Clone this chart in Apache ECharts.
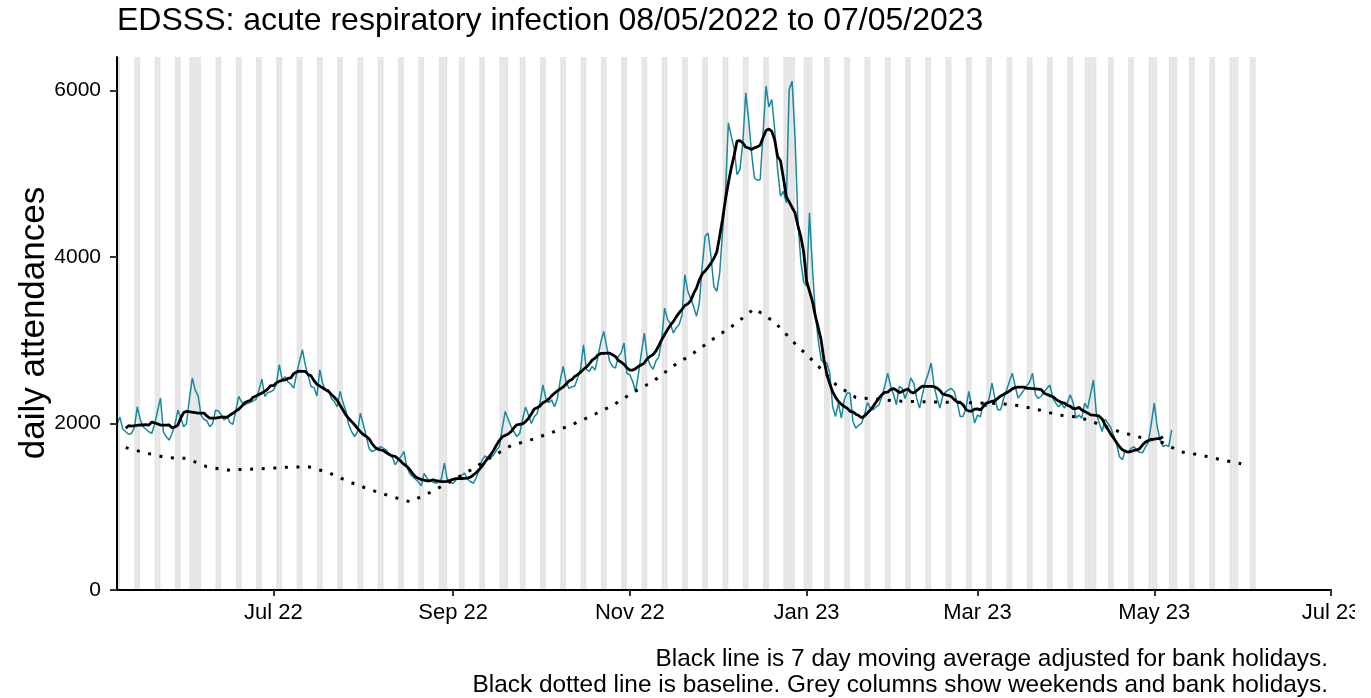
<!DOCTYPE html>
<html>
<head>
<meta charset="utf-8">
<script src="https://cdn.jsdelivr.net/npm/echarts@6/dist/echarts.min.js"></script>
<style>
  html, body { margin: 0; padding: 0; background: #ffffff; }
  #chart { width: 1371px; height: 698px; }
</style>
</head>
<body>
<div id="chart"></div>
<script>
// Daily attendances, one value per day starting Sunday 08/05/2022 (one week per row)
const seriesStart = '2022-05-08';
const dailyAttendances = [
  1990, 2076, 1933, 1900, 1870, 1880, 1950,
  2200, 2050, 1960, 1930, 1900, 1880, 1990,
  2150, 2304, 1900, 1840, 1800, 1880, 1990,
  2160, 2070, 1960, 2000, 2300, 2545, 2400,
  2330, 2100, 2050, 2030, 1960, 2000, 2160,
  2150, 2100, 2040, 2080, 2010, 1990, 2150,
  2324, 2260, 2220, 2240, 2250, 2270, 2290,
  2400, 2533, 2324, 2370, 2380, 2400, 2470,
  2705, 2525, 2560, 2500, 2470, 2424, 2600,
  2750, 2885, 2700, 2565, 2444, 2430, 2330,
  2645, 2480, 2400, 2404, 2300, 2264, 2200,
  2384, 2250, 2150, 1983, 1900, 1843, 1900,
  2124, 1990, 1850, 1700, 1663, 1680, 1700,
  1723, 1700, 1680, 1623, 1600, 1503, 1560,
  1600, 1663, 1483, 1400, 1362, 1330, 1300,
  1250, 1400, 1340, 1310, 1300, 1280, 1300,
  1340, 1523, 1322, 1290, 1280, 1320, 1360,
  1380, 1402, 1330, 1300, 1282, 1350, 1442,
  1560, 1611, 1580, 1590, 1623, 1680, 1723,
  1950, 2144, 2050, 1963, 1900, 1843, 1880,
  2050, 2196, 2100, 2000, 2080, 2120, 2250,
  2464, 2300, 2250, 2280, 2200, 2300, 2524,
  2684, 2500, 2420, 2440, 2450, 2550, 2650,
  2945, 2650, 2624, 2684, 2640, 2800, 2980,
  3105, 2925, 2750, 2684, 2664, 2800, 2850,
  2965, 2600, 2584, 2500, 2384, 2604, 2850,
  3085, 2800, 2700, 2650, 2750, 2800, 3000,
  3386, 3250, 3200, 3085, 3150, 3185, 3300,
  3786, 3586, 3500, 3406, 3286, 3446, 3900,
  4247, 4287, 4007, 3646, 3586, 3800, 4300,
  4768, 5609, 5449, 5300, 4988, 5048, 5369,
  5970, 5649, 5249, 4948, 4920, 4928, 5500,
  6050, 5800, 5890, 5529, 5048, 4728, 4788,
  4648, 6010, 6110, 5449, 4448, 3950, 3700,
  3650, 4528, 3887, 3330, 3006, 2765, 2725,
  2725, 2605, 2200, 2084, 2244, 2064, 2284,
  2364, 2364, 2024, 1943, 1980, 2004, 2100,
  2250, 2184, 2164, 2200, 2224, 2324, 2450,
  2604, 2450, 2350, 2224, 2444, 2420, 2300,
  2400, 2545, 2480, 2300, 2184, 2350, 2500,
  2600, 2725, 2450, 2304, 2184, 2330, 2380,
  2404, 2420, 2380, 2250, 2084, 2084, 2180,
  2384, 2200, 2004, 2100, 2080, 2250, 2200,
  2300, 2484, 2300, 2164, 2164, 2300, 2400,
  2500, 2604, 2450, 2304, 2350, 2400, 2450,
  2500, 2604, 2344, 2300, 2330, 2380, 2424,
  2460, 2300, 2244, 2200, 2240, 2184, 2250,
  2344, 2250, 2064, 2100, 2064, 2244, 2180,
  2350, 2524, 2124, 2004, 1903, 2050, 2000,
  1950, 1850, 1750, 1600, 1563, 1680, 1650,
  1700, 1720, 1680, 1650, 1650, 1720, 1780,
  2004, 2244, 1963, 1800, 1723, 1740, 1723,
  1923
];

// Baseline, one value every 7 days starting 11/05/2022
const baselineStart = '2022-05-11';
const baselineStepDays = 7;
const baselineValues = [
  1710, 1645, 1590, 1580, 1480, 1440, 1450, 1460, 1475, 1480,
  1410, 1300, 1210, 1130, 1060, 1170, 1300, 1440, 1590, 1735,
  1805, 1890, 1985, 2095, 2215, 2370, 2505, 2690, 2845, 3020,
  3185, 3380, 3215, 2960, 2725, 2470, 2310, 2290, 2270, 2262,
  2258, 2252, 2245, 2240, 2215, 2165, 2100, 2075, 1990, 1900,
  1835, 1785, 1660, 1620, 1565, 1515
];

// Bank holidays (England) in the plotted period
const bankHolidays = [
  '2022-06-02', '2022-06-03', '2022-08-29', '2022-09-19',
  '2022-12-26', '2022-12-27', '2023-01-02', '2023-04-07',
  '2023-04-10', '2023-05-01', '2023-05-08', '2023-05-29'
];

// Calendar span shaded for weekends and bank holidays
const shadeFrom = '2022-05-08';
const shadeTo = '2023-06-04';

// Axis extent and tick labels
const xAxisFrom = '2022-05-08';
const xAxisTo = '2023-07-01';
const xTickDates = ['2022-07-01', '2022-09-01', '2022-11-01', '2023-01-01', '2023-03-01', '2023-05-01', '2023-07-01'];
const xTickLabels = ['Jul 22', 'Sep 22', 'Nov 22', 'Jan 23', 'Mar 23', 'May 23', 'Jul 23'];
const yTickStep = 2000;
const yMax = 6400;

const titleText = 'EDSSS: acute respiratory infection 08/05/2022 to 07/05/2023';
const yAxisTitle = 'daily attendances';
const captionLines = [
  'Black line is 7 day moving average adjusted for bank holidays.',
  'Black dotted line is baseline. Grey columns show weekends and bank holidays.'
];

const FONT = '"Liberation Sans", Arial, Helvetica, sans-serif';

function parseDay(s) {
  const p = s.split('-').map(Number);
  return new Date(p[0], p[1] - 1, p[2]).getTime();
}
function dayAfter(s, n) {
  const p = s.split('-').map(Number);
  return new Date(p[0], p[1] - 1, p[2] + n).getTime();
}

const holidaySet = new Set(bankHolidays.map(parseDay));
const dayTimes = dailyAttendances.map((v, i) => dayAfter(seriesStart, i));
const dailyPoints = dailyAttendances.map((v, i) => [dayTimes[i], v]);

// Centred 7-day moving average; bank holidays are left out of each window
const movingAverage = [];
for (let i = 0; i < dailyAttendances.length; i++) {
  if (holidaySet.has(dayTimes[i])) continue;
  const before = [], after = [];
  for (let j = i - 1; j >= 0 && before.length < 3; j--) {
    if (!holidaySet.has(dayTimes[j])) before.push(dailyAttendances[j]);
  }
  for (let j = i + 1; j < dailyAttendances.length && after.length < 3; j++) {
    if (!holidaySet.has(dayTimes[j])) after.push(dailyAttendances[j]);
  }
  if (before.length < 3 || after.length < 3) continue;
  const sum = before.concat(after).reduce((a, b) => a + b, 0) + dailyAttendances[i];
  movingAverage.push([dayTimes[i], sum / 7]);
}

const baselinePoints = baselineValues.map((v, i) => [dayAfter(baselineStart, i * baselineStepDays), v]);

// One shaded column per weekend day or bank holiday
const shadedDays = [];
const shadeEnd = parseDay(shadeTo);
for (let n = 0; dayAfter(shadeFrom, n) <= shadeEnd; n++) {
  const t = dayAfter(shadeFrom, n);
  const wd = new Date(t).getDay();
  if (wd === 0 || wd === 6 || holidaySet.has(t)) {
    shadedDays.push([{ xAxis: t }, { xAxis: dayAfter(shadeFrom, n + 1) }]);
  }
}

const tickTimes = xTickDates.map(parseDay);
function tickLabelFor(v) {
  let best = 0, bestDiff = Infinity;
  tickTimes.forEach((t, i) => {
    const d = Math.abs(t - v);
    if (d < bestDiff) { bestDiff = d; best = i; }
  });
  return xTickLabels[best];
}

const chart = echarts.init(document.getElementById('chart'), null, { renderer: 'canvas' });

chart.setOption({
  animation: false,
  backgroundColor: '#ffffff',
  grid: { left: 117, right: 40, top: 57, bottom: 108, containLabel: false },
  xAxis: {
    type: 'value',
    min: parseDay(xAxisFrom),
    max: parseDay(xAxisTo),
    scale: true,
    z: 10,
    splitLine: { show: false },
    axisLine: { show: true, onZero: false, lineStyle: { color: '#000000', width: 2 } },
    axisTick: { show: true, customValues: tickTimes, length: 6, lineStyle: { color: '#333333', width: 2 } },
    axisLabel: {
      show: true,
      customValues: tickTimes,
      formatter: (v) => tickLabelFor(v),
      color: '#000000',
      fontFamily: FONT,
      fontSize: 22,
      margin: 12,
      hideOverlap: false
    }
  },
  yAxis: {
    type: 'value',
    min: 0,
    max: yMax,
    interval: yTickStep,
    z: 10,
    splitLine: { show: false },
    axisLine: { show: true, lineStyle: { color: '#000000', width: 2 } },
    axisTick: { show: true, length: 7, lineStyle: { color: '#333333', width: 2 } },
    axisLabel: {
      color: '#000000',
      fontFamily: FONT,
      fontSize: 21,
      margin: 16,
      showMaxLabel: false,
      formatter: (v) => String(v)
    }
  },
  series: [
    {
      name: 'weekends and bank holidays',
      type: 'line',
      data: [[parseDay(shadeFrom), 0]],
      showSymbol: false,
      symbol: 'none',
      silent: true,
      z: 1,
      lineStyle: { opacity: 0 },
      markArea: {
        silent: true,
        itemStyle: { color: '#e5e5e5' },
        label: { show: false },
        data: shadedDays
      }
    },
    {
      name: 'daily',
      type: 'line',
      data: dailyPoints,
      showSymbol: false,
      symbol: 'none',
      silent: true,
      z: 3,
      lineStyle: { color: '#17899c', width: 1.5 }
    },
    {
      name: 'baseline',
      type: 'line',
      data: baselinePoints,
      showSymbol: false,
      symbol: 'none',
      silent: true,
      z: 4,
      lineStyle: { color: '#000000', width: 3, type: [3, 8.6], cap: 'butt' }
    },
    {
      name: '7 day moving average',
      type: 'line',
      data: movingAverage,
      showSymbol: false,
      symbol: 'none',
      silent: true,
      z: 5,
      lineStyle: { color: '#000000', width: 2.8 }
    }
  ],
  graphic: [
    {
      type: 'text', x: 117, y: 21, z: 10, silent: true,
      style: { text: titleText, fontFamily: FONT, fontSize: 32, fill: '#000000',
               align: 'left', verticalAlign: 'middle' }
    },
    {
      type: 'text', x: 34, y: 323, rotation: Math.PI / 2, z: 10, silent: true,
      style: { text: yAxisTitle, fontFamily: FONT, fontSize: 35, fill: '#000000',
               align: 'center', verticalAlign: 'middle' }
    },
    {
      type: 'text', x: 1328, y: 659, z: 10, silent: true,
      style: { text: captionLines[0], fontFamily: FONT, fontSize: 24.4, fill: '#000000',
               align: 'right', verticalAlign: 'middle' }
    },
    {
      type: 'text', x: 1328, y: 685, z: 10, silent: true,
      style: { text: captionLines[1], fontFamily: FONT, fontSize: 24.4, fill: '#000000',
               align: 'right', verticalAlign: 'middle' }
    },
    {
      // page edge trims the last month label
      type: 'rect', x: 1355, y: 597, z: 20, silent: true,
      shape: { width: 16, height: 40 },
      style: { fill: '#ffffff' }
    }
  ]
});
</script>
</body>
</html>
